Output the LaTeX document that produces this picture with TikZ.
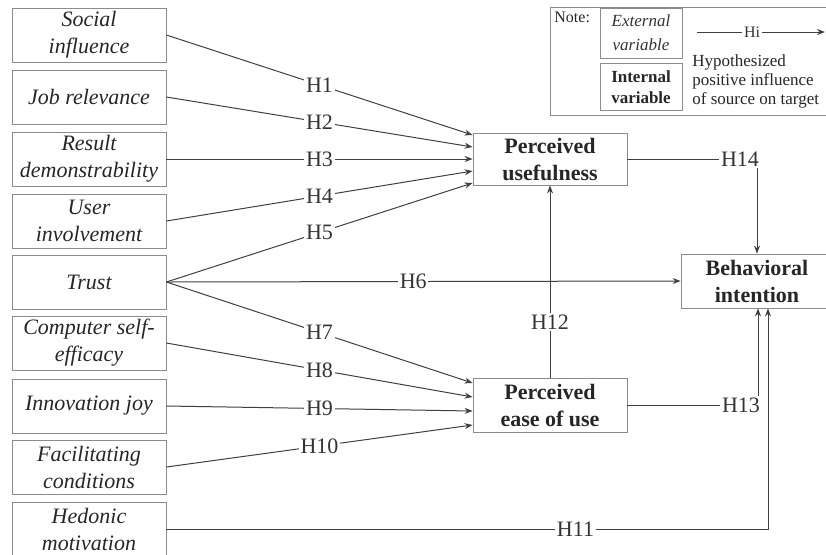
\documentclass[tikz,border=0pt]{standalone}
\usepackage{fontspec}
\setmainfont{Liberation Serif}
\usetikzlibrary{arrows.meta, positioning}

\begin{document}
\begin{tikzpicture}[
    x=0.5pt, y=-0.5pt,
    >={Stealth[length=4pt,width=3pt]},
    extvar/.style={draw=black!45, font=\fontsize{11}{13.5}\selectfont\itshape, text=black!85, align=center, minimum width=77pt, minimum height=27pt, inner sep=1pt},
    intvar/.style={draw=black!45, font=\fontsize{11}{13.5}\selectfont\bfseries, text=black!85, align=center, minimum width=77pt, minimum height=26pt, inner sep=1pt},
    hyp/.style={fill=white, inner sep=0.8pt, font=\fontsize{11}{13}\selectfont, text=black!80},
    link/.style={->, draw=black!75, line width=0.5pt}
  ]
  \useasboundingbox (0,0) rectangle (826,554);

  % ---- external variables ----
  \node[extvar] (si)  at (89,35)  {Social\\influence};
  \node[extvar] (jr)  at (89,97)  {Job relevance};
  \node[extvar] (rd)  at (89,159) {Result\\demonstrability};
  \node[extvar] (ui)  at (89,221) {User\\involvement};
  \node[extvar] (tr)  at (89,282) {Trust};
  \node[extvar] (cse) at (89,343) {Computer self-\\efficacy};
  \node[extvar] (ij)  at (89,406) {Innovation joy};
  \node[extvar] (fc)  at (89,467) {Facilitating\\conditions};
  \node[extvar] (hm)  at (89,529) {Hedonic\\motivation};

  % ---- internal variables ----
  \node[intvar] (pu)   at (550,159) {Perceived\\usefulness};
  \node[intvar, minimum height=27pt] (peou) at (550,405) {Perceived\\ease of use};
  \node[intvar, minimum width=76pt, minimum height=27pt] (bi) at (757,281) {Behavioral\\intention};

  % ---- hypotheses ----
  \draw[link] (si.east)  -- node[hyp] {H1} ([yshift=12pt]pu.west);
  \draw[link] (jr.east)  -- node[hyp] {H2} ([yshift=6pt]pu.west);
  \draw[link] (rd.east)  -- node[hyp] {H3} (pu.west);
  \draw[link] (ui.east)  -- node[hyp] {H4} ([yshift=-6pt]pu.west);
  \draw[link] (tr.east)  -- node[hyp] {H5} ([yshift=-12pt]pu.west);
  \draw[link] (tr.east)  -- node[hyp, pos=0.48] {H6} (bi.west);
  \draw[link] (tr.east)  -- node[hyp] {H7} ([yshift=11pt]peou.west);
  \draw[link] (cse.east) -- node[hyp] {H8} ([yshift=4pt]peou.west);
  \draw[link] (ij.east)  -- node[hyp] {H9} ([yshift=-3pt]peou.west);
  \draw[link] (fc.east)  -- node[hyp] {H10} ([yshift=-10pt]peou.west);
  \draw[link] (hm.east)  -| node[hyp, pos=0.34] {H11} ([xshift=5.5pt]bi.south);
  \draw[link] (peou.north) -- node[hyp, pos=0.29] {H12} (pu.south);
  \draw[link] (peou.east) -| node[hyp, pos=0.5, anchor=east, xshift=2pt] {H13} ([xshift=0.5pt]bi.south);
  \draw[link] (pu.east)   -| node[hyp, pos=0.5, anchor=east, xshift=2pt] {H14} (bi.north);

  % ---- note ----
  \draw[draw=black!45] (550,7) rectangle (832,115);
  \node[anchor=north west, inner sep=0pt, font=\fontsize{8}{9}\selectfont, text=black!85] (notelbl) at (554,12) {Note:};
  \node[draw=black!45, font=\fontsize{8.5}{12}\selectfont\itshape, text=black!80, align=center, minimum width=41pt, minimum height=25pt, inner sep=1pt] (ext) at (641,33) {External\\variable};
  \node[draw=black!45, font=\fontsize{8.5}{10.5}\selectfont\bfseries, text=black!85, align=center, minimum width=41pt, minimum height=23.5pt, inner sep=1pt] (int) at (641,87) {Internal\\variable};
  \coordinate (hia) at (697,32);
  \coordinate (hib) at (825,32);
  \draw[link] (hia) -- node[hyp, pos=0.43, font=\fontsize{8}{9}\selectfont] {Hi} (hib);
  \node[anchor=west, align=left, inner sep=0pt, font=\fontsize{8.5}{9.5}\selectfont, text=black!85] (hyptxt) at (692,81) {Hypothesized\\positive influence\\of source on target};
\end{tikzpicture}
\end{document}
